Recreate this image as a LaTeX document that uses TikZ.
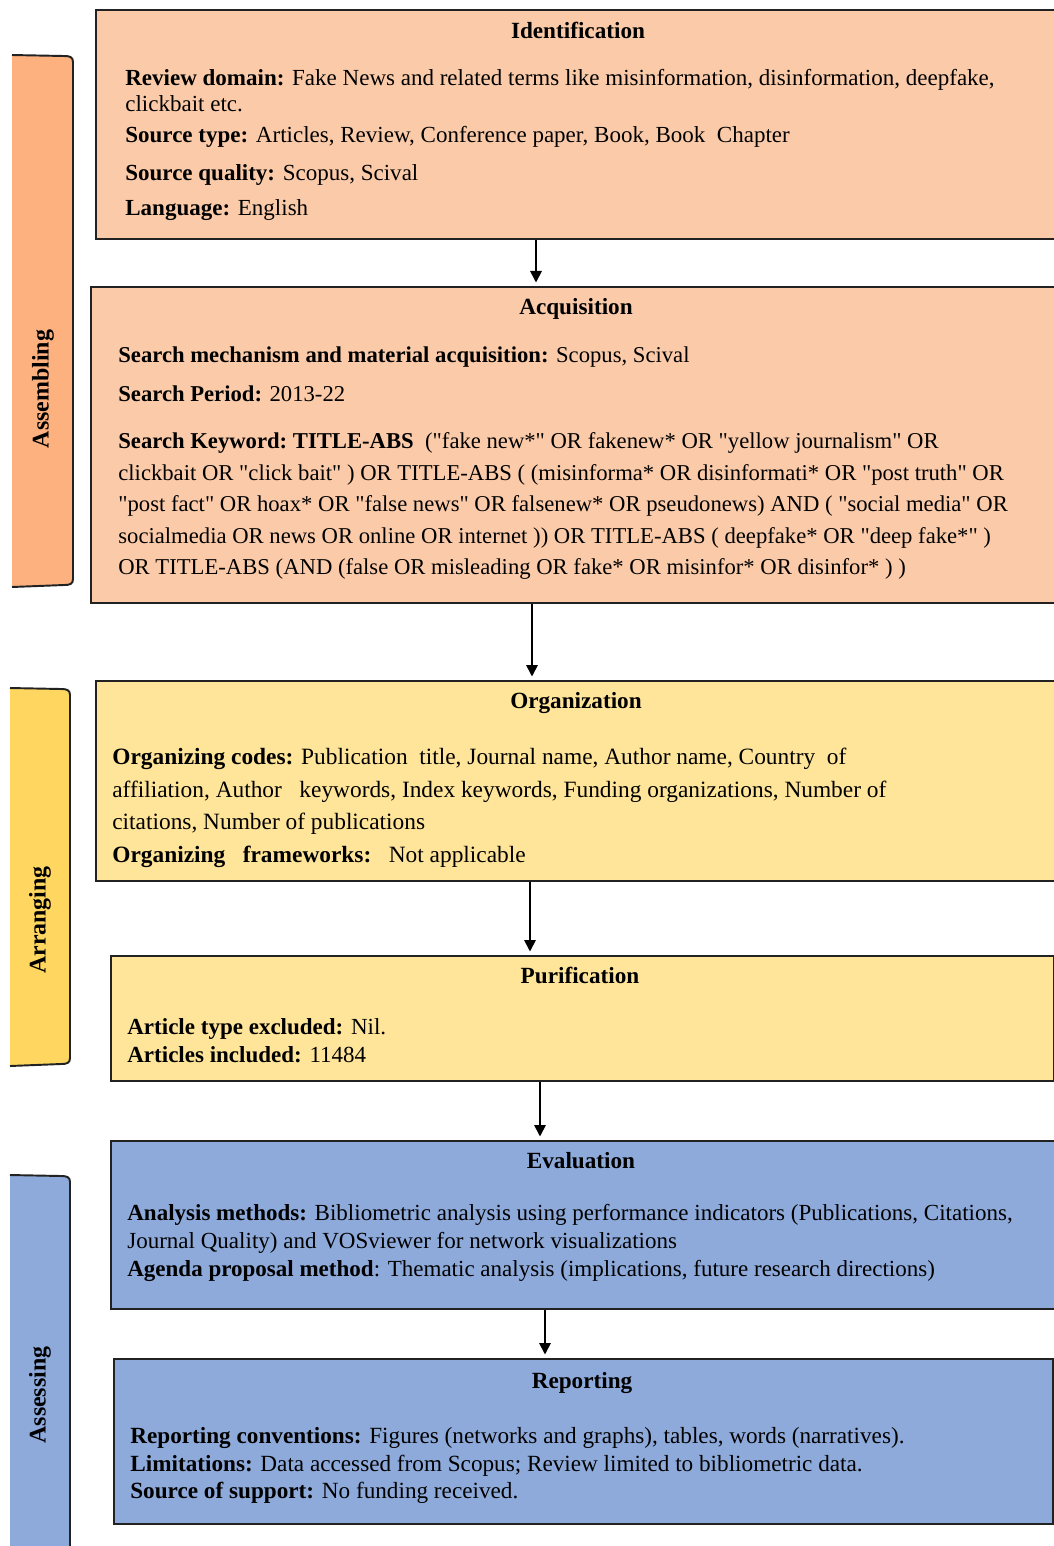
\documentclass[tikz,border=0pt]{standalone}
\usepackage{fontspec}
\setmainfont{Liberation Serif}[Ligatures=TeXOff]
\usetikzlibrary{arrows.meta,positioning,calc}
\definecolor{peach}{HTML}{FBCBA9}
\definecolor{peachbar}{HTML}{FDB17F}
\definecolor{sand}{HTML}{FFE599}
\definecolor{sandbar}{HTML}{FFD660}
\definecolor{sky}{HTML}{8EAADB}
\definecolor{edge}{HTML}{222222}

\begin{document}
\begin{tikzpicture}[x=0.02cm,y=-0.02cm,
 b/.style={draw=edge,line width=1.1pt,anchor=north west,inner sep=0pt},
 ttl/.style={font=\fontsize{13.2}{15}\selectfont\bfseries,inner sep=0pt},
 txt/.style={anchor=north west,align=left,inner sep=0pt},
 lbl/.style={rotate=90,font=\fontsize{13.6}{15}\selectfont\bfseries,inner sep=0pt},
 bar/.style={draw=edge,line width=1.1pt,line join=round},
 arr/.style={-{Triangle[length=2.3mm,width=2.3mm]},line width=1pt,shorten >=2pt}]
\useasboundingbox (0,0) rectangle (1054,1546);
\clip (0,0) rectangle (1054,1546);
\fill[white] (0,0) rectangle (1054,1546);
% side bars
\fill[peachbar] (12,55) -- (64,56) .. controls (70,56) and (73,57) .. (73,62) -- (73,579) .. controls (73,584) and (70,585) .. (64,585) -- (12,587) -- cycle;
\draw[bar] (12,55) -- (64,56) .. controls (70,56) and (73,57) .. (73,62) -- (73,579) .. controls (73,584) and (70,585) .. (64,585) -- (12,587);
\fill[sandbar] (10,688) -- (61,689) .. controls (67,689) and (70,690) .. (70,695) -- (70,1058) .. controls (70,1063) and (67,1064) .. (61,1064) -- (10,1066) -- cycle;
\draw[bar] (10,688) -- (61,689) .. controls (67,689) and (70,690) .. (70,695) -- (70,1058) .. controls (70,1063) and (67,1064) .. (61,1064) -- (10,1066);
\fill[sky] (10,1175) -- (61,1176) .. controls (67,1176) and (70,1177) .. (70,1182) -- (70,1560) -- (10,1560) -- cycle;
\draw[bar] (10,1175) -- (61,1176) .. controls (67,1176) and (70,1177) .. (70,1182) -- (70,1560);
\node[lbl] (assem) at (43,389) {Assembling};
\node[lbl] (arran) at (40,920) {Arranging};
\node[lbl] (asses) at (40,1395) {Assessing};
% boxes
\node[b,fill=peach,minimum width=19.34cm,minimum height=4.58cm] (iden) at (95,9) {};
\node[b,fill=peach,minimum width=19.44cm,minimum height=6.32cm] (acq) at (90,286) {};
\node[b,fill=sand,minimum width=19.3cm,minimum height=4cm] (org) at (95,680) {};
\node[b,fill=sand,minimum width=18.86cm,minimum height=2.5cm] (pur) at (110,955) {};
\node[b,fill=sky,minimum width=18.88cm,minimum height=3.36cm] (eva) at (110,1140) {};
\node[b,fill=sky,minimum width=18.78cm,minimum height=3.3cm] (rep) at (113,1358) {};
\node[ttl] (idenT) at (578,30) {Identification};
\node[ttl] (acqT) at (576,309) {Acquisition};
\node[ttl] (orgT) at (576,703) {Organization};
\node[ttl] (purT) at (580,975) {Purification};
\node[ttl] (evaT) at (581,1161) {Evaluation};
\node[ttl] (repT) at (582,1383) {Reporting};
\node[txt,font=\fontsize{13.1}{15}\selectfont] (idenB) at (125,69) {\textbf{Review domain:} Fake News and related terms like misinformation, disinformation, deepfake,\\ clickbait etc.\\[2.6pt]
 \textbf{Source type:} Articles, Review, Conference paper, Book, Book\ \ Chapter\\[6.6pt]
 \textbf{Source quality:} Scopus, Scival\\[4.9pt]
 \textbf{Language:} English};
\node[txt,font=\fontsize{12.9}{17.9}\selectfont] (acqB) at (118,346) {\textbf{Search mechanism and material acquisition:} Scopus, Scival\\[4.3pt]
 \textbf{Search Period:} 2013-22\\[9.3pt]
 \textbf{Search Keyword:\ TITLE-ABS}\ \ ("fake new*" OR fakenew* OR "yellow journalism" OR\\
 clickbait OR "click bait" ) OR TITLE-ABS ( (misinforma* OR disinformati* OR "post truth" OR\\
 "post fact" OR hoax* OR "false news" OR falsenew* OR pseudonews) AND ( "social media" OR\\
 socialmedia OR news OR online OR internet )) OR TITLE-ABS ( deepfake* OR "deep fake*" )\\
 OR TITLE-ABS (AND (false OR misleading OR fake* OR misinfor* OR disinfor* ) )};
\node[txt,font=\fontsize{13.3}{18.5}\selectfont] (orgB) at (112,748) {\textbf{Organizing codes:} Publication\ \ title, Journal name, Author name, Country\ \ of\\
 affiliation, Author\ \ \ keywords, Index keywords, Funding organizations, Number of\\
 citations, Number of publications\\
 \textbf{Organizing\ \ \ frameworks:}\ \ \ Not applicable};
\node[txt,font=\fontsize{13.1}{15.9}\selectfont] (purB) at (127,1018) {\textbf{Article type excluded:} Nil.\\
 \textbf{Articles included:} 11484};
\node[txt,font=\fontsize{13.1}{15.9}\selectfont] (evaB) at (127,1204) {\textbf{Analysis methods:} Bibliometric analysis using performance indicators (Publications, Citations,\\
 Journal Quality) and VOSviewer for network visualizations\\
 \textbf{Agenda proposal method}: Thematic analysis (implications, future research directions)};
\node[txt,font=\fontsize{13.2}{15.7}\selectfont] (repB) at (130,1427) {\textbf{Reporting conventions:} Figures (networks and graphs), tables, words (narratives).\\
 \textbf{Limitations:} Data accessed from Scopus; Review limited to bibliometric data.\\
 \textbf{Source of support:} No funding received.};
% connectors
\coordinate (c1) at (536,0);
\coordinate (c2) at (532,0);
\coordinate (c3) at (530,0);
\coordinate (c4) at (540,0);
\coordinate (c5) at (545,0);
\draw[arr] (iden.south -| c1) -- (acq.north -| c1);
\draw[arr] (acq.south -| c2) -- (org.north -| c2);
\draw[arr] (org.south -| c3) -- (pur.north -| c3);
\draw[arr] (pur.south -| c4) -- (eva.north -| c4);
\draw[arr] (eva.south -| c5) -- (rep.north -| c5);
\end{tikzpicture}
\end{document}
